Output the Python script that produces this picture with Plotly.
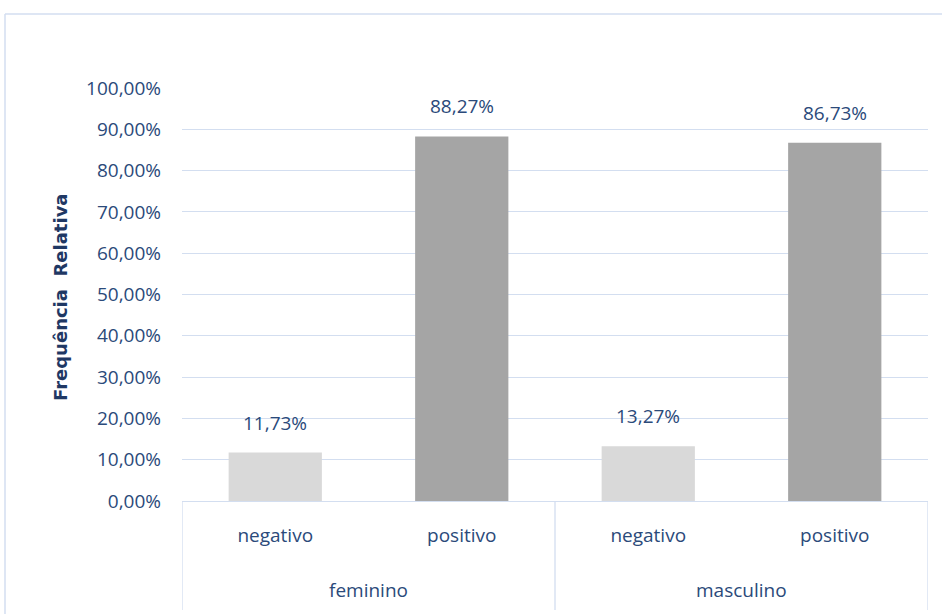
import plotly.graph_objects as go

# Data: relative frequency (%) of result by sex
groups = ["feminino", "feminino", "masculino", "masculino"]
results = ["negativo", "positivo", "negativo", "positivo"]
freq_pct = [11.73, 88.27, 13.27, 86.73]
bar_colors = ["#D9D9D9", "#A5A5A5", "#D9D9D9", "#A5A5A5"]
y_ticks = [0, 10, 20, 30, 40, 50, 60, 70, 80, 90, 100]

TEXT = "#2B4A7A"
LINE = "#D3DEF0"
FONT = "Open Sans"

W, H = 942, 614
L, R, T, B = 182, 14, 88, 113
plot_w = W - L - R
plot_h = H - T - B


def px_to_paper_x(px):
    return (px - L) / plot_w


def px_to_paper_y(py):
    return (H - B - py) / plot_h


xs = list(range(len(results)))

fig = go.Figure(
    go.Bar(
        x=xs,
        y=[v / 100 for v in freq_pct],
        marker=dict(color=bar_colors, line=dict(width=0)),
        width=0.5,
        hoverinfo="skip",
    )
)

# value labels above bars
for x, v in zip(xs, freq_pct):
    fig.add_annotation(
        x=x, y=v / 100, xref="x", yref="y",
        text=f"{v:.2f}%".replace(".", ","),
        showarrow=False, yanchor="bottom", yshift=15,
        font=dict(family=FONT, size=19, color=TEXT),
    )

# group labels (second category level)
group_names = []
for g in groups:
    if g not in group_names:
        group_names.append(g)
for g in group_names:
    idx = [i for i, gg in enumerate(groups) if gg == g]
    fig.add_annotation(
        x=sum(idx) / len(idx), y=px_to_paper_y(590), xref="x", yref="paper",
        text=g, showarrow=False, yanchor="middle",
        font=dict(family=FONT, size=19, color=TEXT),
    )

# category dividers
bounds = [-0.5]
for i in range(1, len(groups)):
    if groups[i] != groups[i - 1]:
        bounds.append(i - 0.5)
bounds.append(len(groups) - 0.5)
for b in bounds:
    fig.add_shape(
        type="line", xref="x", yref="paper",
        x0=b, x1=b, y0=0, y1=px_to_paper_y(610),
        line=dict(color=LINE, width=1.3),
    )

# chart frame (left and top edges)
fig.add_shape(type="line", xref="paper", yref="paper",
              x0=px_to_paper_x(5), x1=px_to_paper_x(5),
              y0=px_to_paper_y(H + 5), y1=px_to_paper_y(14),
              line=dict(color=LINE, width=1.5))
fig.add_shape(type="line", xref="paper", yref="paper",
              x0=px_to_paper_x(5), x1=px_to_paper_x(W + 5),
              y0=px_to_paper_y(14), y1=px_to_paper_y(14),
              line=dict(color=LINE, width=1.5))

# y-axis title
fig.add_annotation(
    x=px_to_paper_x(60), y=px_to_paper_y(297), xref="paper", yref="paper",
    text="Frequência  Relativa", textangle=-90, showarrow=False,
    xanchor="center", yanchor="middle",
    font=dict(family="DejaVu Sans", size=18, color="#1F3864", weight="bold"),
)

fig.update_layout(
    width=W, height=H,
    margin=dict(l=L, r=R, t=T, b=B),
    paper_bgcolor="white", plot_bgcolor="white",
    separators=",.",
    showlegend=False,
    bargap=0.5,
    xaxis=dict(
        range=[-0.5, len(xs) - 0.5],
        tickmode="array", tickvals=xs, ticktext=results,
        showgrid=False, zeroline=False,
        showline=True, linecolor=LINE, linewidth=1.3,
        ticks="", ticklabelstandoff=17,
        tickfont=dict(family=FONT, size=19, color=TEXT),
    ),
    yaxis=dict(
        range=[0, 1],
        tickmode="array", tickvals=[t / 100 for t in y_ticks],
        tickformat=".2%",
        showgrid=True, gridcolor=LINE, gridwidth=1.3,
        zeroline=False, showline=False, ticks="",
        ticklabelstandoff=20,
        tickfont=dict(family=FONT, size=19, color=TEXT),
    ),
)

fig.write_html("out.html")
